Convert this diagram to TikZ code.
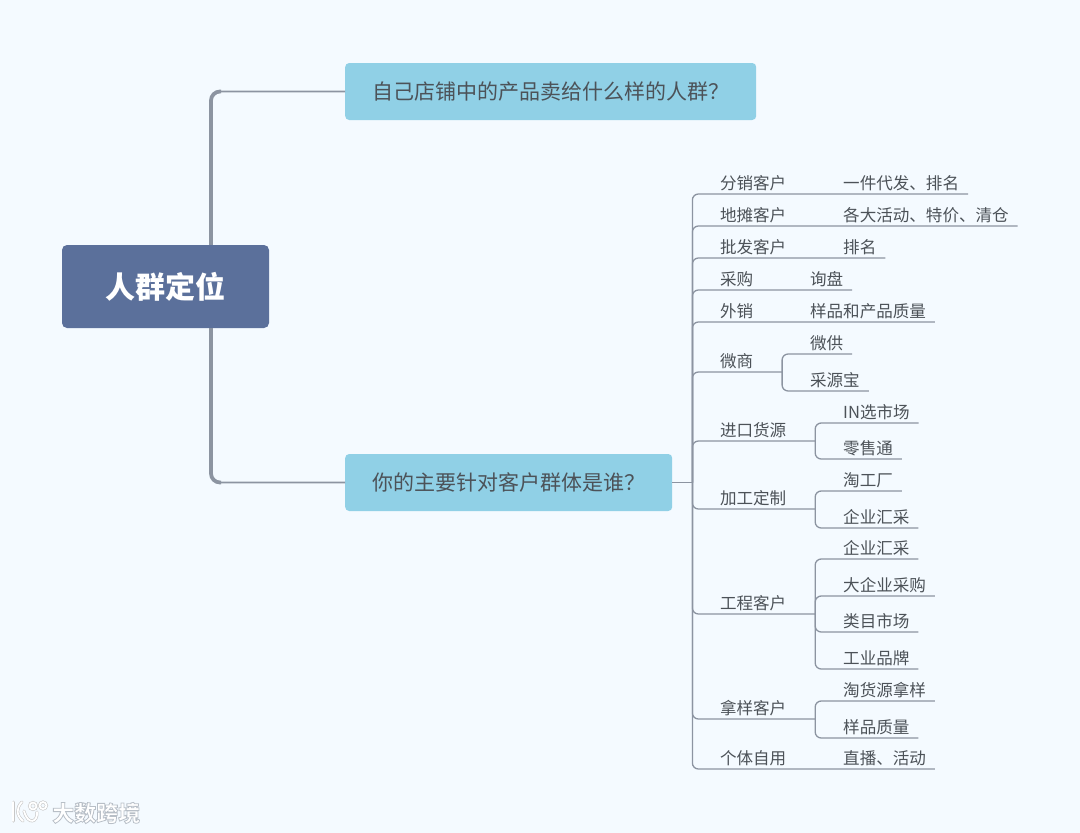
\documentclass[tikz,border=0pt]{standalone}
\usepackage{xcolor}
\usepackage{fontspec}
\setmainfont{Noto Sans CJK SC}
\usepackage{tikz}
\usetikzlibrary{positioning}

\definecolor{pagebg}{HTML}{F4FAFF}
\definecolor{rootblue}{HTML}{5B709B}
\definecolor{askblue}{HTML}{90D0E6}
\definecolor{linegray}{HTML}{8C94A1}
\definecolor{textgray}{HTML}{4C5258}

\begin{document}
\begin{tikzpicture}[
    x=1pt, y=-1pt,
    node distance=39pt,
    root/.style={rectangle, fill=rootblue, rounded corners=5pt, minimum width=207pt, minimum height=83pt, text=white, font=\fontsize{30}{30}\selectfont\bfseries},
    ask/.style={rectangle, fill=askblue, rounded corners=4pt, anchor=west, minimum height=57pt, inner xsep=27pt, text=textgray, font=\fontsize{21}{21}\selectfont},
    item/.style={rectangle, anchor=south west, inner xsep=9pt, inner ysep=5pt, outer sep=0pt, text height=13pt, text depth=0pt, text=textgray, font=\fontsize{16.55}{16.55}\selectfont},
    branch/.style={draw=linegray, line width=1.3pt, rounded corners=6pt},
    trunk/.style={draw=linegray, line width=1.8pt, rounded corners=9pt},
    trunkwide/.style={draw=linegray, line width=3.8pt, rounded corners=9pt},
    logo/.style={draw=black!22, double=white, double distance=1.8pt, line width=0.6pt, line cap=round},
]
\fill[pagebg] (0,0) rectangle (1080,833);

\node[root] (main) at (165.5,286.5) {人群定位};
\node[ask] (q1) at (345,91.5) {自己店铺中的产品卖给什么样的人群？};
\node[ask] (q2) at (345,482.5) {你的主要针对客户群体是谁？};

% second level
\node[item] (fenxiao) at (711,194) {分销客户};
\node[item] (ditan) at (711,226) {地摊客户};
\node[item] (pifa) at (711,258) {批发客户};
\node[item] (caigou) at (711,290) {采购};
\node[item] (waixiao) at (711,322) {外销};
\node[item] (weishang) at (711,372) {微商};
\node[item] (jinkou) at (711,441) {进口货源};
\node[item] (jiagong) at (711,509) {加工定制};
\node[item] (gongcheng) at (711,614) {工程客户};
\node[item] (nayang) at (711,719) {拿样客户};
\node[item] (geti) at (711,769) {个体自用};

% third level
\node[item, right=of fenxiao] (yijian) {一件代发、排名};
\node[item, right=of ditan] (huodong) {各大活动、特价、清仓};
\node[item, right=of pifa] (paiming) {排名};
\node[item, right=of caigou] (xunpan) {询盘};
\node[item, right=of waixiao] (yangpin) {样品和产品质量};
\node[item, right=of geti] (zhibo) {直播、活动};
\node[item, right=of weishang, yshift=18pt] (weigong) {微供};
\node[item, right=of weishang, yshift=-19pt] (caiyuan) {采源宝};
\node[item, right=of jinkou, yshift=18pt] (inxuan) {IN选市场};
\node[item, right=of jinkou, yshift=-18pt] (lingshou) {零售通};
\node[item, right=of jiagong, yshift=18pt] (taogong) {淘工厂};
\node[item, right=of jiagong, yshift=-19pt] (huicai) {企业汇采};
\node[item, right=of gongcheng, yshift=55pt] (huicaib) {企业汇采};
\node[item, right=of gongcheng, yshift=18pt] (dacaigou) {大企业采购};
\node[item, right=of gongcheng, yshift=-18pt] (leimu) {类目市场};
\node[item, right=of gongcheng, yshift=-55pt] (gongye) {工业品牌};
\node[item, right=of nayang, yshift=18pt] (taohuo) {淘货源拿样};
\node[item, right=of nayang, yshift=-19pt] (zhiliang) {样品质量};

% main connectors
\coordinate (trunkup) at ([xshift=45.5pt]main.north);
\coordinate (trunkdown) at ([xshift=45.5pt]main.south);
\draw[trunk] (trunkup) |- (q1.west);
\draw[trunk] (trunkdown) |- (q2.west);
\draw[trunkwide] (trunkup) |- ([xshift=-124pt]q1.west);
\draw[trunkwide] (trunkdown) |- ([xshift=-124pt]q2.west);

\coordinate[right=20pt of q2] (hub);
\draw[branch] (q2.east) -- (hub);

% one child: the line runs on
\draw[branch] (hub) |- (fenxiao.south east) -- (yijian.south east);
\draw[branch] (hub) |- (ditan.south east) -- (huodong.south east);
\draw[branch] (hub) |- (pifa.south east) -- (paiming.south east);
\draw[branch] (hub) |- (caigou.south east) -- (xunpan.south east);
\draw[branch] (hub) |- (waixiao.south east) -- (yangpin.south east);
\draw[branch] (hub) |- (geti.south east) -- (zhibo.south east);

% several children
\draw[branch] (hub) |- (weishang.south east) -- ++(20,0) coordinate (weishangj);
\foreach \k in {weigong,caiyuan} \draw[branch] (weishangj) |- (\k.south east);
\draw[branch] (hub) |- (jinkou.south east) -- ++(20,0) coordinate (jinkouj);
\foreach \k in {inxuan,lingshou} \draw[branch] (jinkouj) |- (\k.south east);
\draw[branch] (hub) |- (jiagong.south east) -- ++(20,0) coordinate (jiagongj);
\foreach \k in {taogong,huicai} \draw[branch] (jiagongj) |- (\k.south east);
\draw[branch] (hub) |- (gongcheng.south east) -- ++(20,0) coordinate (gongchengj);
\foreach \k in {huicaib,dacaigou,leimu,gongye} \draw[branch] (gongchengj) |- (\k.south east);
\draw[branch] (hub) |- (nayang.south east) -- ++(20,0) coordinate (nayangj);
\foreach \k in {taohuo,zhiliang} \draw[branch] (nayangj) |- (\k.south east);

% watermark
\draw[logo] (13,802) -- (13,821);
\draw[logo] (22,802) .. controls (16,808) and (16,815) .. (23,821);
\draw[logo] (24,811) .. controls (28,826) and (38,822) .. (37,812);
\draw[logo] (33,806) circle (3.5);
\draw[logo] (43,805.5) circle (3.5);
\node[inner sep=0pt, anchor=west, text=white, font=\fontsize{22}{22}\selectfont\bfseries] (mark) at (52,813)
    {\special{pdf:code q 2 Tr 0.8 w 0.72 0.75 0.78 RG}大数跨境\special{pdf:code Q}};
\end{tikzpicture}
\end{document}
